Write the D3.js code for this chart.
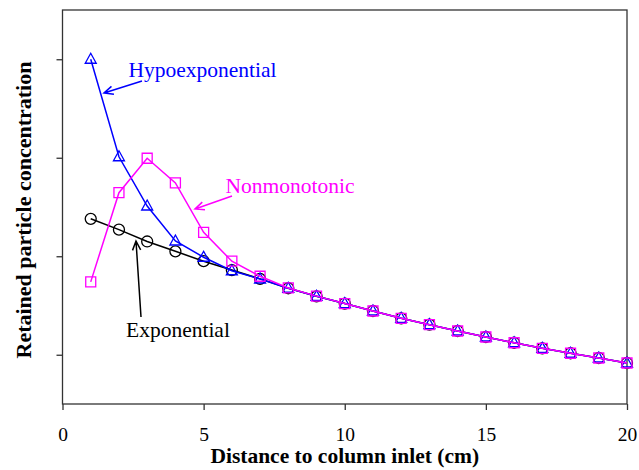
<!DOCTYPE html>
<html>
<head>
<meta charset="utf-8">
<script src="https://cdn.jsdelivr.net/npm/d3@7"></script>
<style>
  body { margin: 0; background: #fff; }
  svg text { font-family: "Liberation Serif", "Times New Roman", serif; }
</style>
</head>
<body>
<svg id="chart" width="639" height="470"></svg>
<script>
// MARK: Data.

const distance = d3.range(1, 21)

const exponential = [2.38, 2.27, 2.15, 2.05, 1.95, 1.86, 1.77, 1.675, 1.593, 1.52,
                     1.444, 1.37, 1.305, 1.241, 1.18, 1.122, 1.065, 1.015, 0.967, 0.916]
const hypoexponential = [4.0, 3.01, 2.51, 2.155, 1.99, 1.853, 1.769, 1.675, 1.593, 1.52,
                         1.444, 1.37, 1.305, 1.241, 1.18, 1.122, 1.065, 1.015, 0.967, 0.916]
const nonmonotonic = [1.74, 2.645, 2.995, 2.745, 2.243, 1.95, 1.797, 1.678, 1.595, 1.52,
                      1.444, 1.37, 1.305, 1.241, 1.18, 1.122, 1.065, 1.015, 0.967, 0.916]

const xTicks = [0, 5, 10, 15, 20]
const yTicks = [1, 2, 3, 4]

// MARK: Layout.

const svg = d3.select('#chart')
const plotLeft = 62.5, plotRight = 627, plotTop = 10, plotBottom = 404

const x = d3.scaleLinear().domain([0, 20]).range([plotLeft, plotRight])
const y = d3.scaleLinear().domain([0.5, 4.5]).range([plotBottom, plotTop])

const BLUE    = '#0000ff'
const MAGENTA = '#ff00ff'
const BLACK   = '#000000'

// Frame.
svg.append('rect')
  .attr('x', plotLeft).attr('y', plotTop)
  .attr('width', plotRight - plotLeft).attr('height', plotBottom - plotTop)
  .attr('fill', 'none')
  .attr('stroke', '#333')
  .attr('stroke-width', 1.3)

// Axes.
const xAxis = svg.append('g')
  .attr('transform', `translate(0,${plotBottom})`)
  .call(d3.axisBottom(x).tickValues(xTicks).tickSize(6).tickPadding(17).tickFormat(d3.format('d')))
const yAxis = svg.append('g')
  .attr('transform', `translate(${plotLeft},0)`)
  .call(d3.axisLeft(y).tickValues(yTicks).tickSize(6).tickFormat(''))

for (const ax of [xAxis, yAxis]) {
  ax.select('.domain').remove()
  ax.selectAll('line').attr('stroke', '#333').attr('stroke-width', 1.3)
  ax.selectAll('text')
    .attr('fill', BLACK)
    .style('font-family', '"Liberation Serif", serif')
    .style('font-size', '19.5px')
}

// Axis titles.
svg.append('text')
  .attr('x', (plotLeft + plotRight) / 2)
  .attr('y', 462.5)
  .attr('text-anchor', 'middle')
  .style('font-size', '21.5px')
  .style('font-weight', 'bold')
  .text('Distance to column inlet (cm)')

svg.append('text')
  .attr('transform', `translate(31,${(plotTop + plotBottom) / 2 + 3}) rotate(-90)`)
  .attr('text-anchor', 'middle')
  .style('font-size', '22px')
  .style('font-weight', 'bold')
  .text('Retained particle concentration')

// MARK: Series.

const line = d3.line().x((d) => x(d[0])).y((d) => y(d[1]))

function drawSeries(values, color, marker) {
  const pts = distance.map((d, i) => [d, values[i]])
  const g = svg.append('g')
  g.append('path')
    .datum(pts)
    .attr('d', line)
    .attr('fill', 'none')
    .attr('stroke', color)
    .attr('stroke-width', 1.5)
  g.selectAll('path.marker')
    .data(pts).enter()
    .append('path')
    .attr('class', 'marker')
    .attr('transform', (d) => `translate(${x(d[0])},${y(d[1])})`)
    .attr('d', marker)
    .attr('fill', 'none')
    .attr('stroke', color)
    .attr('stroke-width', 1.3)
}

const circle   = d3.symbol().type(d3.symbolCircle).size(95)()
const triangle = 'M0,-6 L5.5,4 L-5.5,4 Z'
const square   = 'M-5,-5 L5,-5 L5,5 L-5,5 Z'

drawSeries(exponential, BLACK, circle)
drawSeries(hypoexponential, BLUE, triangle)
drawSeries(nonmonotonic, MAGENTA, square)

// MARK: Annotations.

function arrow(x1, y1, x2, y2, color) {
  const a = Math.atan2(y2 - y1, x2 - x1)
  const len = 10, spread = 0.42
  svg.append('path')
    .attr('d', `M${x1},${y1} L${x2},${y2}` +
      ` M${x2 - len * Math.cos(a - spread)},${y2 - len * Math.sin(a - spread)} L${x2},${y2}` +
      ` L${x2 - len * Math.cos(a + spread)},${y2 - len * Math.sin(a + spread)}`)
    .attr('fill', 'none')
    .attr('stroke', color)
    .attr('stroke-width', 1.5)
}

function label(text, lx, ly, color) {
  svg.append('text')
    .attr('x', lx).attr('y', ly)
    .attr('fill', color)
    .style('font-size', '21.5px')
    .text(text)
}

label('Hypoexponential', 128.5, 77, BLUE)
arrow(142, 81, 104, 93, BLUE)

label('Nonmonotonic', 225.5, 193, MAGENTA)
arrow(232, 196, 195, 209, MAGENTA)

label('Exponential', 126, 337, BLACK)
arrow(141, 317, 136, 241, BLACK)
</script>
</body>
</html>
